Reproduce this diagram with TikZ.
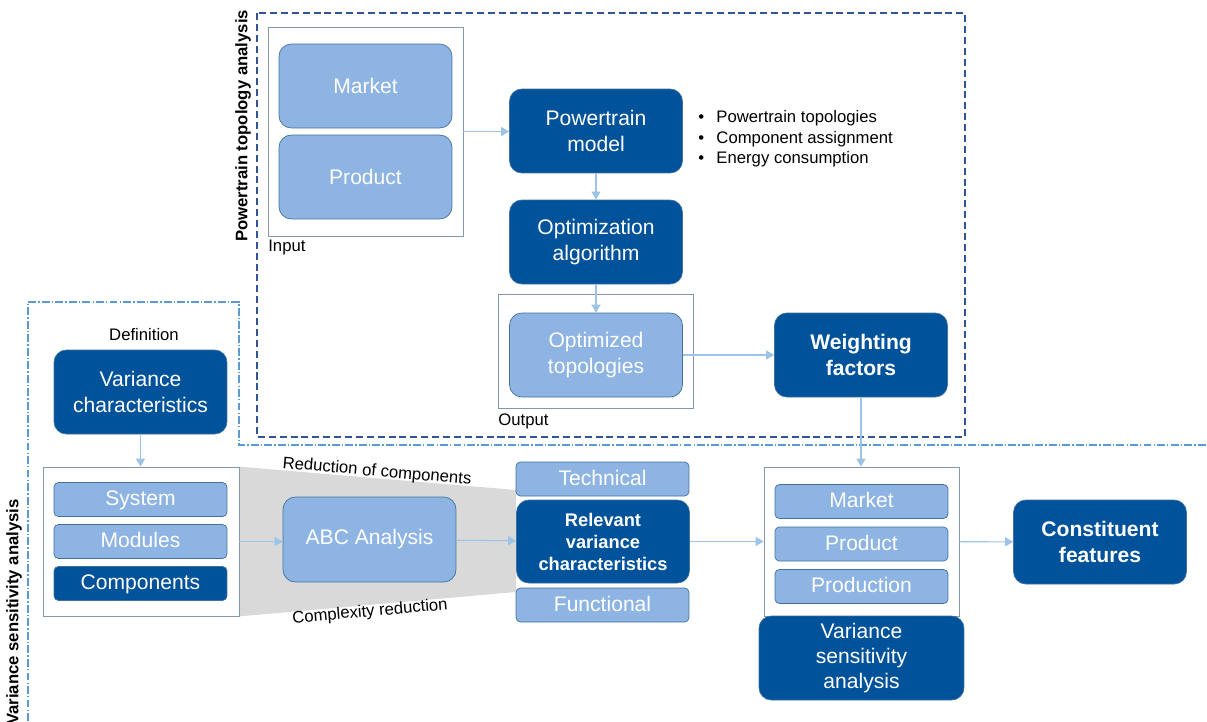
\documentclass[tikz,border=0pt]{standalone}
\usepackage{fontspec}
\setmainfont{Liberation Sans}
\usetikzlibrary{arrows.meta,backgrounds,positioning}
\definecolor{darkblue}{RGB}{0,82,155}
\definecolor{lightblue}{RGB}{141,180,226}
\definecolor{rimblue}{RGB}{65,113,156}
\definecolor{framegray}{RGB}{132,151,176}
\definecolor{arrowblue}{RGB}{157,195,230}
\definecolor{dashblue}{RGB}{47,85,151}
\definecolor{dotblue}{RGB}{91,155,213}
\definecolor{funnelgray}{RGB}{217,217,217}

\begin{document}
\begin{tikzpicture}[x=0.02cm, y=-0.02cm, ->, >={Triangle[length=1.6mm,width=1.8mm]}, node distance=0.84cm]
 % Define block styles
	\tikzstyle{dark} = [rectangle, draw=rimblue, fill=darkblue, text=white, rounded corners=7pt, minimum width=3.46cm, minimum height=1.68cm, align=center, inner sep=0pt, font=\fontsize{12}{14.4}\selectfont]
	\tikzstyle{light} = [dark, fill=lightblue]
	\tikzstyle{slim} = [light, rounded corners=2.5pt, minimum height=0.68cm, text height=0.75em, text depth=0.05em]
	\tikzstyle{holder} = [rectangle, draw=framegray, fill=white, inner sep=0pt]
	\tikzstyle{note} = [inner sep=0pt, font=\fontsize{9.5}{11.7}\selectfont]
	\tikzstyle{boldtext} = [font=\bfseries\fontsize{12}{14.7}\selectfont]
	\tikzstyle{link} = [draw=arrowblue, line width=0.6pt]
	\useasboundingbox (0,0) rectangle (1207,721);
%%====Powertrain topology analysis================================================
	\draw[-, dashblue, line width=0.85pt, dash pattern=on 4pt off 2.2pt] (257,13) rectangle (965,437);
	\node[note, font=\bfseries\fontsize{9.5}{11.6}\selectfont, rotate=90] (ptlabel) at (243,126) {Powertrain topology analysis};
	\node[holder, minimum width=3.9cm, minimum height=4.18cm] (input) at (365.5,131.5) {};
	\node[note, anchor=north west] (inputlabel) at (268,240) {Input};
	\node[light] (market) at (365.5,86) {Market};
	\node[light] (product) at (365.5,177) {Product};
	\node[dark] (model) at (596,131) {Powertrain\\model};
	\node[note, anchor=west, align=left] (features) at (698,139)
		{\textbullet\hspace{7pt}Powertrain topologies\\ \textbullet\hspace{7pt}Component assignment\\ \textbullet\hspace{7pt}Energy consumption};
	\node[dark] (optim) at (596,242) {Optimization\\algorithm};
	\node[holder, minimum width=3.9cm, minimum height=2.28cm] (output) at (595.5,351) {};
	\node[note, anchor=north west] (outputlabel) at (498,413) {Output};
	\node[light] (optimized) at (596,355) {Optimized\\topologies};
	\node[dark, boldtext] (weight) at (861,355) {Weighting\\factors};
%%====Variance sensitivity analysis===============================================
	\draw[-, dotblue, line width=0.6pt, dash pattern=on 4.5pt off 1.2pt on 0.8pt off 1.2pt] (28,721) -- (28,302) -- (239,302) -- (239,445) -- (1207,445);
	\node[note, font=\bfseries\fontsize{9.5}{11.6}\selectfont, rotate=90] (vsalabel) at (14,612) {Variance sensitivity analysis};
	\node[note] (deflabel) at (144,335) {Definition};
	\node[dark] (vchar) at (140.5,392) {Variance\\characteristics};
	\node[holder, minimum width=3.92cm, minimum height=2.98cm] (levels) at (141,541.5) {};
	\node[slim] (system) at (140.5,499.5) {System};
	\node[slim, below of=system] (modules) {Modules};
	\node[slim, fill=darkblue, below of=modules] (components) {Components};
	\node[light, minimum height=1.7cm] (abc) at (369.5,539.5) {ABC Analysis};
	\node[note, rotate=-5] (redlabel) at (377,472) {Reduction of components};
	\node[note, rotate=5] (cmplabel) at (370,612) {Complexity reduction};
	\node[slim] (technical) at (602.5,479) {Technical};
	\node[dark, font=\bfseries\fontsize{10.4}{12.5}\selectfont, minimum height=1.66cm] (relevant) at (603,541.5) {Relevant\\variance\\characteristics};
	\node[slim] (functional) at (602.5,605) {Functional};
	\node[holder, minimum width=3.9cm, minimum height=2.98cm] (pillars) at (861.5,541.5) {};
	\node[slim] (market2) at (861.5,501.5) {Market};
	\node[slim, below of=market2, node distance=0.85cm] (product2) {Product};
	\node[slim, below of=product2, node distance=0.85cm] (production) {Production};
	\node[dark, minimum width=4.1cm] (sensitivity) at (861.5,658) {Variance\\sensitivity\\analysis};
	\node[dark, boldtext] (constituent) at (1100,542) {Constituent\\features};
	\begin{scope}[on background layer]
		\fill[funnelgray] (levels.north east) -- (516,490) -- (516,592) -- (levels.south east) -- cycle;
	\end{scope}
%%====Connections===================================================================
	\draw[link] (input.east) -- (input.east -| model.west);
	\draw[link] (model) -- (optim);
	\draw[link] (optim) -- (optimized);
	\draw[link] (optimized) -- (weight);
	\draw[link] (weight.south) -- (weight.south |- pillars.north);
	\draw[link] (vchar.south) -- (vchar.south |- levels.north);
	\draw[link] (levels.east) -- (levels.east -| abc.west);
	\draw[link] (abc) -- (relevant);
	\draw[link] (relevant) -- (pillars);
	\draw[link] (pillars) -- (constituent);
\end{tikzpicture}
\end{document}
